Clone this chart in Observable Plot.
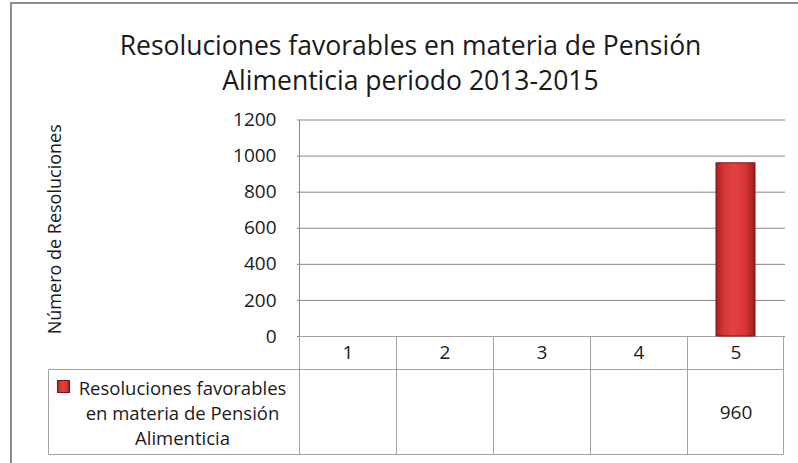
<!DOCTYPE html>
<html><head><meta charset="utf-8">
<script src="https://cdn.jsdelivr.net/npm/d3@7"></script>
<script src="https://cdn.jsdelivr.net/npm/@observablehq/plot@0.6"></script>
<style>body{margin:0;background:#fff;} #chart svg{display:block;}</style>
</head><body><div id="chart"></div>
<script>
// ---- data ----
const categories = ["1", "2", "3", "4", "5"];
const values = [null, null, null, null, 960];
const yTicks = [0, 200, 400, 600, 800, 1000, 1200];
const titleLines = ["Resoluciones favorables en materia de Pensión", "Alimenticia periodo 2013-2015"];
const yLabel = "Número de Resoluciones";
const seriesLabelLines = ["Resoluciones favorables", "en materia de Pensión", "Alimenticia"];

const data = categories.map((c, i) => ({category: c, value: values[i]}));
const withValue = data.filter(d => d.value != null);

// ---- layout / style ----
const W = 798, H = 463, mL = 297, mR = 13, mT = 119.5, mB = 127;
const headerH = 33, tableH = 118, legendLeft = 48;
const gridColor = "#868686", tableColor = "#a3a3a3", textColor = "#1a1a1a";
const font = "'Open Sans', Lato, sans-serif";
const titleSize = 26.5;

function defsMark() {
  const defs = d3.create("svg:defs");
  const lg = defs.append("linearGradient").attr("id", "barGrad")
    .attr("x1", "0").attr("x2", "1").attr("y1", "0").attr("y2", "0");
  [["0%", "#a81e1e"], ["18%", "#d23333"], ["45%", "#e44242"], ["75%", "#d63636"], ["100%", "#9c1b1b"]]
    .forEach(([o, c]) => lg.append("stop").attr("offset", o).attr("stop-color", c));
  return defs.node();
}

function frameMark() {
  const g = d3.create("svg:g").attr("stroke", "#8c8c8c").attr("stroke-width", 2).attr("fill", "none");
  g.append("line").attr("x1", 10).attr("x2", W).attr("y1", 3).attr("y2", 3);
  g.append("line").attr("x1", 11).attr("x2", 11).attr("y1", 2).attr("y2", H);
  return g.node();
}

function tableMark(index, scales) {
  const x = scales.x, y = scales.y;
  const bw = typeof x.bandwidth === "function" ? x.bandwidth() : x.bandwidth;
  const y0 = Math.round(y(0)) + 0.5, yTop = Math.round(y(yTicks[yTicks.length - 1])) + 0.5;
  const xs = categories.map(c => Math.round(x(c)) + 0.5);
  const xEnd = Math.round(x(categories[categories.length - 1]) + bw) - 0.5;
  const g = d3.create("svg:g").attr("fill", "none").attr("stroke-width", 1);
  // vertical value axis line
  g.append("line").attr("stroke", gridColor).attr("x1", xs[0]).attr("x2", xs[0]).attr("y1", yTop).attr("y2", y0);
  const t = g.append("g").attr("stroke", tableColor);
  t.append("line").attr("x1", xs[0]).attr("x2", xEnd).attr("y1", y0).attr("y2", y0);
  t.append("line").attr("x1", legendLeft + 0.5).attr("x2", xEnd).attr("y1", y0 + headerH).attr("y2", y0 + headerH);
  t.append("line").attr("x1", legendLeft + 0.5).attr("x2", xEnd).attr("y1", y0 + tableH).attr("y2", y0 + tableH);
  [...xs, xEnd].forEach(xx => t.append("line").attr("x1", xx).attr("x2", xx).attr("y1", y0).attr("y2", y0 + tableH));
  t.append("line").attr("x1", legendLeft + 0.5).attr("x2", legendLeft + 0.5).attr("y1", y0 + headerH).attr("y2", y0 + tableH);
  // legend key swatch
  g.append("rect").attr("x", 57.5).attr("y", y0 + 44).attr("width", 12).attr("height", 12)
    .attr("fill", "url(#barGrad)").attr("stroke", "#6e1818");
  return g.node();
}

const chart = Plot.plot({
  width: W, height: H,
  marginLeft: mL, marginRight: mR, marginTop: mT, marginBottom: mB,
  style: {fontFamily: font, color: textColor, background: "#fff"},
  x: {domain: categories, padding: 0},
  y: {domain: [0, 1200]},
  marks: [
    defsMark,
    frameMark,
    Plot.gridY(yTicks, {stroke: gridColor, strokeOpacity: 1}),
    tableMark,
    Plot.barY(withValue, {x: "category", y: "value", fill: "url(#barGrad)", stroke: "#7a1717", strokeWidth: 1, insetLeft: 29, insetRight: 29}),
    Plot.axisY(yTicks, {tickSize: 0, tickPadding: 21, fontSize: 19, fill: textColor, label: null, tickFormat: d => String(d)}),
    Plot.axisX({tickSize: 0, tickPadding: 8.5, fontSize: 19, fill: textColor, label: null}),
    Plot.text(withValue, {x: "category", y: 0, text: d => String(d.value), dy: 76, lineAnchor: "middle", fontSize: 19, fill: textColor}),
    Plot.text([seriesLabelLines.join("\n")], {text: d => d, frameAnchor: "bottom-left", dx: 182 - mL, dy: 75.5, textAnchor: "middle", lineAnchor: "middle", lineHeight: 1.36, fontSize: 18.5, fill: textColor}),
    Plot.text([yLabel], {text: d => d, frameAnchor: "left", rotate: -90, dx: 55 - mL, dy: 1, textAnchor: "middle", lineAnchor: "middle", fontSize: 18, fill: textColor}),
    Plot.text([titleLines.join("\n")], {text: d => d, frameAnchor: "top-left", dx: 410 - mL, dy: 48 - mT - 0.71 * titleSize, textAnchor: "middle", lineAnchor: "top", lineHeight: 35 / titleSize, fontSize: titleSize, fill: textColor})
  ]
});
document.getElementById("chart").appendChild(chart);
</script>
</body></html>
